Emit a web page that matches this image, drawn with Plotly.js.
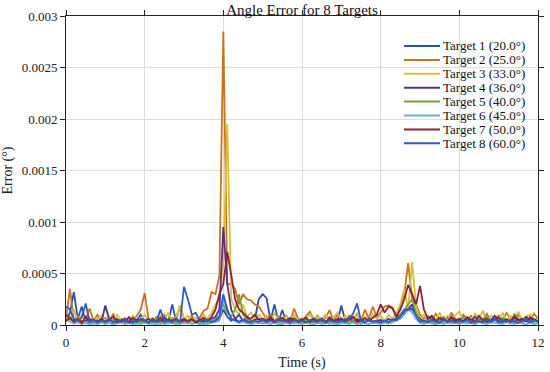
<!DOCTYPE html>
<html>
<head>
<meta charset="utf-8">
<script src="https://cdn.plot.ly/plotly-3.0.1.min.js"></script>
<style>html,body{margin:0;padding:0;background:#fff}#chart{width:550px;height:372px}</style>
</head>
<body>
<div id="chart"></div>
<script>
// Time samples (s)
const time_s = [
 0.0,0.1,0.2,0.3,0.4,0.5,0.6,0.7,0.8,0.9,
 1.0,1.1,1.2,1.3,1.4,1.5,1.6,1.7,1.8,1.9,
 2.0,2.1,2.2,2.3,2.4,2.5,2.6,2.7,2.8,2.9,
 3.0,3.1,3.2,3.3,3.4,3.5,3.6,3.7,3.8,3.9,
 4.0,4.1,4.2,4.3,4.4,4.5,4.6,4.7,4.8,4.9,
 5.0,5.1,5.2,5.3,5.4,5.5,5.6,5.7,5.8,5.9,
 6.0,6.1,6.2,6.3,6.4,6.5,6.6,6.7,6.8,6.9,
 7.0,7.1,7.2,7.3,7.4,7.5,7.6,7.7,7.8,7.9,
 8.0,8.1,8.2,8.3,8.4,8.5,8.6,8.7,8.8,8.9,
 9.0,9.1,9.2,9.3,9.4,9.5,9.6,9.7,9.8,9.9,
 10.0,10.1,10.2,10.3,10.4,10.5,10.6,10.7,10.8,10.9,
 11.0,11.1,11.2,11.3,11.4,11.5,11.6,11.7,11.8,11.9,
 12.0];

// Angle errors, in micro-degrees (1e-6 °)
const target1_udeg = [
 40,120,320,60,180,30,20,45,15,30,
 25,50,20,35,60,15,30,20,45,100,
 30,20,40,25,15,60,30,200,40,20,
 35,25,45,30,20,50,25,40,30,60,
 150,80,40,60,30,45,25,35,50,250,
 300,260,40,200,30,145,25,40,30,20,
 35,50,25,40,20,55,30,25,45,30,
 190,40,20,35,60,25,30,45,20,35,
 30,50,25,40,60,100,150,160,150,120,
 40,25,35,20,50,30,45,25,60,30,
 25,40,30,55,20,35,45,25,30,50,
 30,20,45,35,25,60,30,40,20,35,
 40];
const target2_udeg = [
 60,350,40,90,30,50,160,40,100,30,
 70,30,110,40,60,25,80,40,90,150,
 310,60,30,80,40,100,30,70,50,190,
 60,40,90,30,70,140,160,320,300,480,
 2850,400,400,350,200,300,250,240,200,180,
 120,60,100,40,80,50,90,30,160,60,
 40,80,130,50,90,30,70,145,40,100,
 60,30,90,50,110,40,150,60,180,80,
 120,180,190,170,90,200,300,600,250,200,
 100,60,90,40,110,50,80,30,120,60,
 40,100,60,90,30,80,50,110,40,70,
 90,40,120,60,30,100,50,80,40,110,
 60];
const target3_udeg = [
 80,50,150,30,100,40,70,20,60,90,
 40,80,30,100,50,70,30,90,40,60,
 100,40,70,30,90,50,120,40,80,190,
 50,90,40,70,30,100,60,120,200,250,
 600,1950,250,150,100,200,80,120,60,100,
 50,90,40,110,60,30,80,50,100,40,
 70,40,110,30,80,60,100,40,70,120,
 40,90,60,30,100,50,80,40,110,60,
 90,40,100,60,120,200,350,150,610,180,
 60,100,40,80,50,120,30,90,60,100,
 130,50,80,40,110,60,140,30,90,70,
 50,120,40,90,60,130,40,80,100,50,
 70];
const target4_udeg = [
 100,60,30,50,20,40,60,25,45,30,
 190,50,30,60,25,40,70,30,50,35,
 40,60,25,45,30,70,35,50,25,40,
 60,30,45,25,55,35,40,60,80,150,
 950,400,150,60,100,40,70,30,50,60,
 40,30,60,25,50,35,45,70,30,40,
 55,30,40,65,25,45,35,50,30,60,
 30,45,70,25,40,55,30,60,35,45,
 50,30,60,40,70,90,120,150,200,100,
 60,35,50,80,30,45,60,25,70,40,
 50,30,65,40,80,35,55,30,45,90,
 35,60,40,25,70,45,30,80,40,55,
 30];
const target5_udeg = [
 30,80,20,50,15,30,10,40,20,60,
 15,30,50,20,40,10,25,45,15,30,
 20,40,15,30,10,35,20,50,25,15,
 30,15,40,20,35,10,25,45,60,90,
 200,120,80,150,300,100,50,30,40,20,
 35,15,40,20,30,10,45,25,15,35,
 20,40,15,30,55,20,35,10,40,25,
 15,35,20,45,25,10,30,50,20,35,
 25,40,15,30,50,90,150,200,250,120,
 40,20,60,30,15,45,25,70,20,40,
 30,80,20,45,15,60,30,100,25,50,
 20,70,35,15,110,40,25,60,30,45,
 20];
const target6_udeg = [
 50,30,15,25,10,20,5,15,10,25,
 10,20,5,15,25,10,20,5,15,10,
 20,10,15,5,25,10,15,20,5,10,
 15,25,10,20,5,15,10,25,30,40,
 250,150,60,40,20,30,15,10,20,25,
 15,20,10,25,5,15,20,10,25,15,
 10,20,15,5,25,10,15,20,10,5,
 20,15,10,25,5,20,15,10,25,15,
 10,20,15,25,40,60,100,150,120,60,
 20,10,25,15,5,20,10,25,15,20,
 10,25,15,20,5,30,15,10,25,20,
 15,10,30,20,10,25,15,5,20,10,
 15];
const target7_udeg = [
 40,70,30,60,20,80,35,50,25,60,
 30,50,80,25,45,60,30,70,40,55,
 45,25,60,35,70,30,50,40,65,30,
 50,35,60,25,45,70,40,80,150,300,
 400,710,490,250,150,120,80,60,100,50,
 60,40,80,30,55,70,35,50,65,30,
 45,70,30,55,40,60,25,75,40,50,
 60,35,50,80,30,45,65,40,70,100,
 200,120,180,160,80,150,250,390,300,200,
 380,150,60,90,40,70,55,30,80,45,
 60,35,75,50,30,90,40,65,30,55,
 70,40,55,30,85,45,60,35,75,50,
 40];
const target8_udeg = [
 180,150,60,40,70,210,30,50,25,40,
 35,60,25,45,30,55,20,40,30,60,
 40,25,50,30,150,35,45,25,55,30,
 370,250,100,120,40,30,55,25,45,80,
 300,150,60,45,30,55,35,25,40,30,
 50,30,45,25,60,35,40,20,55,30,
 40,25,50,35,30,60,20,45,35,25,
 45,30,60,110,210,40,25,50,30,35,
 25,40,30,55,45,80,140,150,160,90,
 30,45,25,50,35,20,55,30,40,25,
 45,30,55,20,40,35,25,50,30,60,
 25,45,30,50,35,20,40,55,30,45,
 35];

const seriesNames = ["Target 1 (20.0°)","Target 2 (25.0°)","Target 3 (33.0°)","Target 4 (36.0°)",
                     "Target 5 (40.0°)","Target 6 (45.0°)","Target 7 (50.0°)","Target 8 (60.0°)"];
const seriesColors = ["#2a4fb5","#c8731e","#d8bf35","#55308a","#76a33a","#6aaee8","#8c2232","#2f58c8"];
const allSeries = [target1_udeg,target2_udeg,target3_udeg,target4_udeg,target5_udeg,target6_udeg,target7_udeg,target8_udeg];

const yTickVals = [0,0.0005,0.001,0.0015,0.002,0.0025,0.003];
const yTickText = ["0","0.0005","0.001","0.0015","0.002","0.0025","0.003"];
const xTickVals = [0,2,4,6,8,10,12];

const FONT = "Liberation Serif, Times New Roman, serif";

const traces = allSeries.map((s,i)=>({
  x: time_s,
  y: s.map(v => v*1e-6),
  type: "scatter",
  mode: "lines",
  name: seriesNames[i],
  line: {color: seriesColors[i], width: 1.8},
  showlegend: false
}));

// custom legend (compact spacing like the reference)
const W = 550, H = 372, L = 66, R = 538, T = 16, B = 325;
const px2x = p => (p - L)/(R - L);
const py2y = p => (B - p)/(B - T);
const shapes = [], annotations = [];
seriesNames.forEach((n,i)=>{
  const py = 46 + i*13.9;
  shapes.push({type:"line", xref:"paper", yref:"paper", x0:px2x(404), x1:px2x(440), y0:py2y(py), y1:py2y(py),
               line:{color:seriesColors[i], width:2}});
  annotations.push({xref:"paper", yref:"paper", x:px2x(441), y:py2y(py), xanchor:"left", yanchor:"middle",
               text:n, showarrow:false, font:{family:FONT, size:13, color:"#111"}});
});

const axisCommon = {
  showline:true, linecolor:"#222", linewidth:1, mirror:"ticks",
  ticks:"outside", ticklen:5, tickcolor:"#222",
  showgrid:true, gridcolor:"#dcdcdc", gridwidth:1, zeroline:false,
  tickfont:{family:FONT, size:13, color:"#222"}
};

const layout = {
  width:W, height:H,
  margin:{l:L, r:W-R, t:T, b:H-B},
  paper_bgcolor:"#fff", plot_bgcolor:"#fff",
  title:{text:"Angle Error for 8 Targets", x:0.5, xref:"paper", y:1-10/H, yref:"container", yanchor:"middle",
         font:{family:FONT, size:15, color:"#111"}},
  xaxis:Object.assign({}, axisCommon, {range:[0,12], tickmode:"array", tickvals:xTickVals,
         title:{text:"Time (s)", font:{family:FONT, size:14, color:"#222"}, standoff:8}}),
  yaxis:Object.assign({}, axisCommon, {range:[0,0.003], tickmode:"array", tickvals:yTickVals, ticktext:yTickText,
         title:{text:"Error (°)", font:{family:FONT, size:14, color:"#222"}, standoff:8}}),
  shapes, annotations,
  showlegend:false
};

Plotly.newPlot("chart", traces, layout, {displayModeBar:false, staticPlot:true});
</script>
</body>
</html>
